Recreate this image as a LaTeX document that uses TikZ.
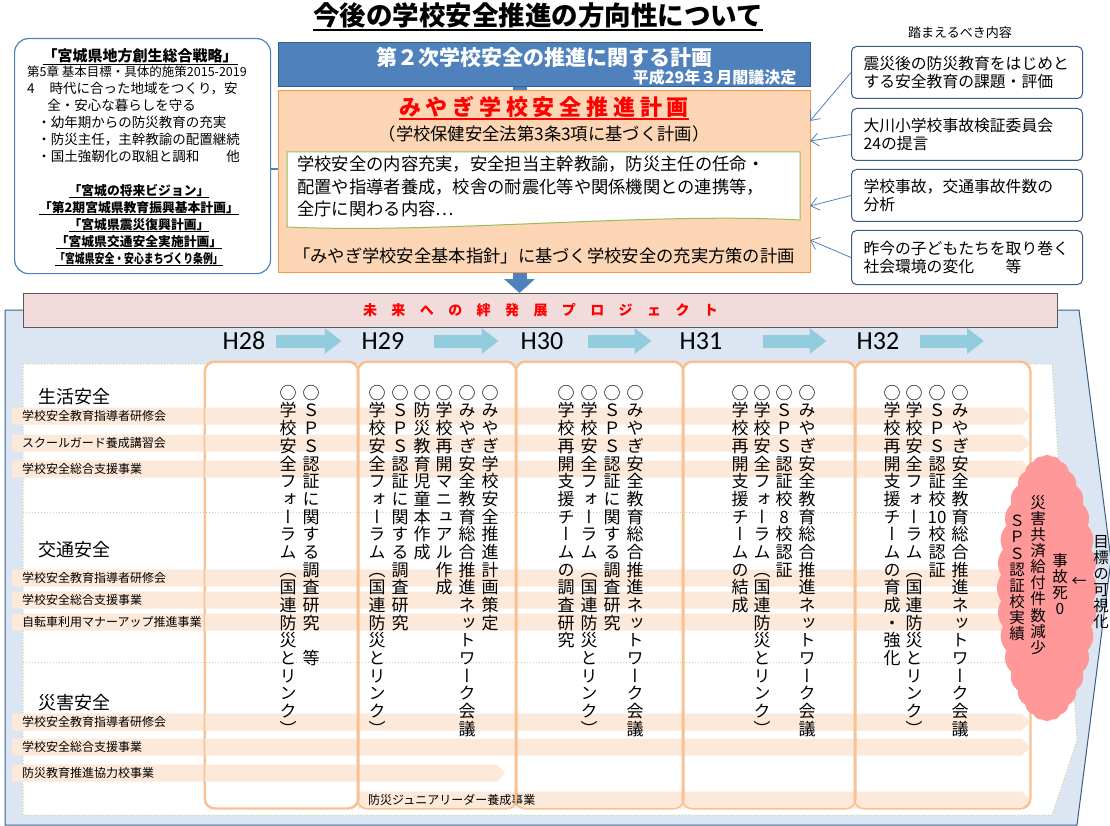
\documentclass[tikz,border=0pt]{standalone}
\usepackage{fontspec}
\setmainfont{Noto Sans CJK JP}
\newfontfamily\tatefont[RawFeature=+vert]{Noto Sans CJK JP}
\newfontfamily\yearfont{Carlito}
\usetikzlibrary{positioning}
\usetikzlibrary{arrows.meta,shapes.symbols}

\definecolor{frameblue}{RGB}{56,93,138}
\definecolor{boxblue}{RGB}{79,129,189}
\definecolor{lightblue}{RGB}{220,230,242}
\definecolor{planfill}{RGB}{252,213,181}
\definecolor{planline}{RGB}{247,150,70}
\definecolor{docgreen}{RGB}{155,187,89}
\definecolor{dotgreen}{RGB}{195,214,155}
\definecolor{barpink}{RGB}{242,220,219}
\definecolor{bargray}{RGB}{89,89,89}
\definecolor{steparrow}{RGB}{147,205,221}
\definecolor{colline}{RGB}{250,192,144}
\definecolor{bandfill}{RGB}{253,233,217}
\definecolor{blobred}{RGB}{255,153,153}

\newcommand\fsz[2]{\fontsize{#1}{#2}\selectfont}
\newcommand\uline[1]{\setbox0\hbox{#1}\rlap{\rule[-0.2em]{\wd0}{0.08em}}\box0}
\def\spreadloop#1{\ifx\relax#1\else#1\kern\spreadkern\expandafter\spreadloop\fi}
\newcommand\spread[2]{\def\spreadkern{#1pt}\spreadloop#2\relax\unkern}
\def\tateloop#1{\ifx\relax#1\else\hbox to 1em{\hss#1\hss}\expandafter\tateloop\fi}
\newcommand\tate[1]{\vtop{\tatefont\baselineskip=1.04em\lineskiplimit=-100pt\tateloop#1\relax}}

\begin{document}
\begin{tikzpicture}[x=1pt, y=-1pt,
    basis/.style = {draw=frameblue, line width=1pt, rounded corners=5pt, fill=white, anchor=north west, align=left, text width=207pt, inner xsep=12pt, inner ysep=0pt, minimum height=52pt, font=\fsz{15.8}{18}},
    feed/.style = {draw=boxblue, line width=0.8pt, -{Straight Barb[length=8pt,width=13pt]}},
    bandtext/.style = {anchor=west, inner sep=0pt, font=\fsz{12}{12}},
    vtext/.style = {anchor=north, inner sep=0pt, font=\fsz{17}{17}},
    goaltext/.style = {anchor=north, inner sep=0pt, font=\fsz{15.5}{15.5}},
    yeartext/.style = {inner sep=0pt, font=\yearfont\fsz{26}{26}},
    yearstep/.style = {draw=steparrow, line width=13pt, -{Triangle[length=17pt,width=25pt]}},
    catlabel/.style = {anchor=west, inner sep=0pt, font=\fsz{18}{18}}]

\useasboundingbox (0,0) rectangle (1110,826);

% title
\node[font=\fsz{26.5}{26.5}\bfseries] (title) at (538,17) {\uline{今後の学校安全推進の方向性について}};

% prefecture plans
\node[draw=boxblue, line width=1.2pt, rounded corners=14pt, minimum width=256pt, minimum height=235pt, anchor=north west] (pref) at (14,38) {};
\node[font=\fsz{15}{15}\bfseries] (strategy) at (140,57) {\uline{「宮城県地方創生総合戦略」}};
\node[anchor=north west, align=left, inner sep=0pt, font=\fsz{13.5}{17}] (goals) at (27,66) {{\fsz{12.5}{17}第5章 基本目標・具体的施策2015-2019}\\4\hspace{1.1em}時代に合った地域をつくり，安\\\hspace{1.5em}全・安心な暮らしを守る\\\hspace{0.75em}・幼年期からの防災教育の充実\\\hspace{0.75em}・防災主任，主幹教諭の配置継続\\\hspace{0.75em}・国土強靭化の取組と調和　　他};
\node[anchor=north, align=center, inner sep=0pt, font=\fsz{12.8}{17}\bfseries] (plans) at (139,184) {\uline{「宮城の将来ビジョン」}\\\uline{「第2期宮城県教育振興基本計画」}\\\uline{「宮城県震災復興計画」}\\\uline{「宮城県交通安全実施計画」}\\\scalebox{0.77}[1]{\uline{「宮城県安全・安心まちづくり条例」}}};

% project frame
\draw[draw=frameblue, fill=lightblue, line width=1pt] (5,310) -- (1079,310) -- (1111,560) -- (1077,825) -- (5,825) -- cycle;
\node[draw=bargray, fill=barpink, line width=1pt, minimum width=1034pt, minimum height=34pt, anchor=north west, text=red, font=\fsz{14}{14}\bfseries] (project) at (23,293) {\spread{14.4}{未来への絆発展プロジェクト}};

% national plan
\node[draw=frameblue, fill=boxblue, line width=1pt, minimum width=532pt, minimum height=44pt, anchor=north west] (national) at (278,42) {};
\node[text=white, font=\fsz{21}{21}\bfseries] (nationaltitle) at (544,57) {第２次学校安全の推進に関する計画};
\node[text=white, anchor=east, font=\fsz{16}{16}\bfseries] (cabinet) at (800,77) {平成29年３月閣議決定};
\draw[boxblue, line width=14pt, -{Triangle[length=14pt,width=30pt]}] ([xshift=-25pt]national.south) -- ([xshift=-21pt]project.north);

% miyagi plan
\node[draw=planline, fill=planfill, line width=1.2pt, minimum width=532pt, minimum height=182pt, anchor=north west] (plan) at (278,90) {};
\node[text=red, font=\fsz{22}{22}\bfseries] (plantitle) at (544,108) {\uline{\spread{4.8}{みやぎ学校安全推進計画}}};
\node[font=\fsz{17.3}{17.3}] (planbasis) at (544,134) {（学校保健安全法第3条3項に基づく計画）};
\draw[docgreen, fill=white, line width=1pt] (287,152) -- (800,152) -- (800,220) .. controls (650,212) and (440,234) .. (287,227) -- cycle;
\node[anchor=north west, align=left, inner sep=0pt, font=\fsz{17.3}{22.5}] (planscope) at (297,156) {学校安全の内容充実，安全担当主幹教諭，防災主任の任命・\\配置や指導者養成，校舎の耐震化等や関係機関との連携等，\\全庁に関わる内容…};
\node[font=\fsz{17.3}{17.3}] (planpolicy) at (544,256) {「みやぎ学校安全基本指針」に基づく学校安全の充実方策の計画};
\draw[boxblue, line width=1.2pt] ([yshift=-13pt]pref.east) -- ([yshift=-13pt]pref.east -| plan.west);

% what to take into account
\node[font=\fsz{13}{13}] (basishead) at (960,33) {踏まえるべき内容};
\node[basis] (basis1) at (851,46) {震災後の防災教育をはじめと\\する安全教育の課題・評価};
\node[basis] (basis2) at (851,108) {大川小学校事故検証委員会\\24の提言};
\node[basis] (basis3) at (851,169) {学校事故，交通事故件数の\\分析};
\node[basis, minimum height=54pt] (basis4) at (851,230) {昨今の子どもたちを取り巻く\\社会環境の変化　　等};
\coordinate (in1) at (810,121);
\coordinate (in2) at (810,141);
\coordinate (in3) at (810,206);
\coordinate (in4) at (810,240);
\foreach \i in {1,...,4} \draw[feed] (basis\i.west) -- (in\i);

% years
\node[yeartext] (h28) at (244,341) {H28};
\node[yeartext] (h29) at (383,341) {H29};
\node[yeartext] (h30) at (542,341) {H30};
\node[yeartext] (h31) at (701,341) {H31};
\node[yeartext] (h32) at (878,341) {H32};
\coordinate (next) at (984,341);
\foreach \a/\b/\s/\t in {h28/h29/11/20, h29/h30/30/22, h30/h31/25/28, h31/h32/41/30}
  \draw[yearstep, shorten <=\s pt, shorten >=\t pt] (\a) -- (\b);
\draw[yearstep, shorten <=21pt] (h32) -- (next);

% table
\draw[dotgreen, dotted, line width=1pt, fill=white] (23,364) -- (1052,364) -- (1077,740) -- (1052,815) -- (23,815) -- cycle;
\foreach \xa/\xb [count=\i] in {205/358,358/516,516/683,683/855,855/1030}
  \node[draw=colline, fill=white, line width=1.5pt, rounded corners=10pt, minimum width={\xb-\xa}, minimum height=446pt, inner sep=0pt] (col\i) at ({(\xa+\xb)/2},585) {};
\foreach \y/\xa/\xb/\txt [count=\i] in {416/12/1030/学校安全教育指導者研修会, 443/12/1030/スクールガード養成講習会, 469/12/1030/学校安全総合支援事業, 578/12/1030/学校安全教育指導者研修会, 600/12/1030/学校安全総合支援事業, 622/12/1030/自転車利用マナーアップ推進事業, 722/12/1030/学校安全教育指導者研修会, 747/12/1030/学校安全総合支援事業, 773/12/505/防災教育推進協力校事業, 800/358/1030/防災ジュニアリーダー養成事業}
{
  \fill[bandfill] (\xa,\y-8.5) -- (\xb-8,\y-8.5) -- (\xb,\y) -- (\xb-8,\y+8.5) -- (\xa,\y+8.5) -- cycle;
  \node[bandtext] (band\i) at (\xa+10,\y) {\txt};
}
\foreach \i in {1,...,5} \draw[colline, line width=1.5pt, rounded corners=10pt] (col\i.south west) rectangle (col\i.north east);
\draw[dotgreen, dotted, line width=1pt] (23,512) -- (1062,512);
\draw[dotgreen, dotted, line width=1pt] (23,662) -- (1072,662);

\node[catlabel] (life) at (38,397) {生活安全};
\node[catlabel] (traffic) at (38,550) {交通安全};
\node[catlabel] (disaster) at (38,703) {災害安全};

% H28
\node[vtext] (h28a) at (311,385) {\tate{○ＳＰＳ認証に関する調査研究　等}};
\node[vtext] (h28b) at (288,385) {\tate{○学校安全フォーラム（国連防災とリンク）}};
% H29
\node[vtext] (h29a) at (490,385) {\tate{○みやぎ学校安全推進計画策定}};
\node[vtext] (h29b) at (467,385) {\tate{○みやぎ安全教育総合推進ネットワーク会議}};
\node[vtext] (h29c) at (444,385) {\tate{○学校再開マニュアル作成}};
\node[vtext] (h29d) at (422,385) {\tate{○防災教育児童本作成}};
\node[vtext] (h29e) at (400,385) {\tate{○ＳＰＳ認証に関する調査研究}};
\node[vtext] (h29f) at (377,385) {\tate{○学校安全フォーラム（国連防災とリンク）}};
% H30
\node[vtext] (h30a) at (635,385) {\tate{○みやぎ安全教育総合推進ネットワーク会議}};
\node[vtext] (h30b) at (612,385) {\tate{○ＳＰＳ認証に関する調査研究}};
\node[vtext] (h30c) at (589,385) {\tate{○学校安全フォーラム（国連防災とリンク）}};
\node[vtext] (h30d) at (566,385) {\tate{○学校再開支援チームの調査研究}};
% H31
\node[vtext] (h31a) at (807,385) {\tate{○みやぎ安全教育総合推進ネットワーク会議}};
\node[vtext] (h31b) at (784,385) {\tate{○ＳＰＳ認証校8校認証}};
\node[vtext] (h31c) at (762,385) {\tate{○学校安全フォーラム（国連防災とリンク）}};
\node[vtext] (h31d) at (740,385) {\tate{○学校再開支援チームの結成}};
% H32
\node[vtext] (h32a) at (960,385) {\tate{○みやぎ安全教育総合推進ネットワーク会議}};
\node[vtext] (h32b) at (937,385) {\tate{○ＳＰＳ認証校{10}校認証}};
\node[vtext] (h32c) at (914,385) {\tate{○学校安全フォーラム（国連防災とリンク）}};
\node[vtext] (h32d) at (892,385) {\tate{○学校再開支援チームの育成・強化}};

% targets
\node[cloud, cloud puffs=32, cloud puff arc=70, cloud ignores aspect, fill=blobred, minimum width=100pt, minimum height=266pt, inner sep=0pt] (target) at (1047,588) {};
\node[goaltext] (sps) at (1017,515) {\tate{ＳＰＳ認証校実績}};
\node[goaltext] (claims) at (1038,495) {\tate{災害共済給付件数減少}};
\node[goaltext] (zero) at (1060,553) {\tate{事故死0}};
\node[font=\fsz{15}{15}, inner sep=0pt] (pointer) at (1079,582) {←};
\node[goaltext] (visible) at (1101,535) {\tate{目標の可視化}};
\end{tikzpicture}
\end{document}
